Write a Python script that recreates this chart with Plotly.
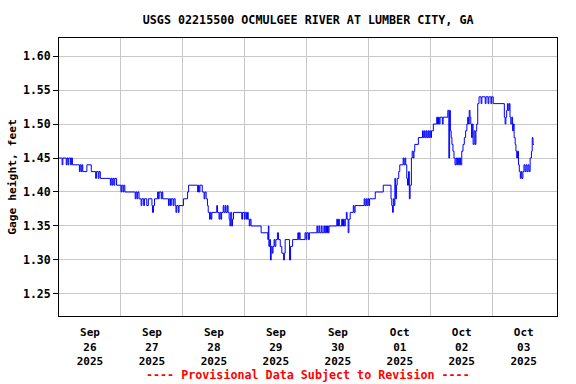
import pandas as pd
import plotly.graph_objects as go

# Hours since 2025-09-26 00:00 and gage height (ft) (step data)
hours = [
    0, 1.2, 1.5, 2.8, 3.1, 3.5, 3.8, 4.5, 4.8, 5.2, 7.9, 8.2, 8.6, 8.9, 9.2, 10.8, 12.5,
    14.2, 14.5, 15.2, 15.5, 16.0, 19.9, 20.2, 20.6, 20.9, 21.3, 21.6, 22.3, 24.0, 24.3,
    24.8, 25.1, 25.5, 29.5, 29.8, 30.2, 30.5, 31.0, 31.8, 32.1, 32.8, 33.1, 34.0, 34.6,
    36.0, 36.2, 36.6, 37.0, 38.2, 38.5, 38.8, 39.6, 39.9, 40.2, 42.4, 42.7, 43.2, 43.5,
    44.2, 44.5, 45.0, 45.3, 45.6, 46.2, 46.5, 48.2, 49.8, 50.2, 53.7, 54.0, 54.3, 54.6,
    55.5, 56.2, 56.5, 57.0, 57.5, 57.8, 58.3, 58.6, 58.9, 59.2, 61.1, 61.4, 62.0, 62.3,
    62.7, 63.0, 63.6, 63.9, 64.4, 64.7, 65.2, 65.5, 65.9, 66.2, 66.5, 66.9, 67.2, 67.6,
    70.8, 71.1, 71.8, 72.1, 72.6, 73.0, 73.3, 73.7, 74.0, 74.4, 78.3, 80.9, 81.1, 81.3,
    81.6, 81.9, 82.2, 82.6, 82.9, 83.3, 83.6, 84.0, 84.6, 85.0, 85.7, 86.3, 87.0, 87.3,
    87.6, 89.3, 89.7, 90.5, 92.5, 92.8, 93.1, 93.4, 95.3, 95.7, 96.0, 96.6, 97.0, 97.5,
    99.9, 100.2, 100.7, 101.0, 101.6, 101.9, 102.6, 102.9, 103.3, 103.6, 104.0, 104.3,
    104.6, 107.6, 107.9, 108.3, 108.6, 109.5, 109.8, 110.2, 110.5, 110.9, 111.3, 111.6,
    112.0, 112.3, 112.8, 114.0, 114.3, 114.7, 118.2, 118.5, 118.9, 119.2, 119.6, 120.0,
    120.3, 122.5, 125.6, 128.6, 128.9, 129.2, 129.5, 129.8, 130.1, 130.4, 130.7, 131.0,
    131.6, 132.0, 133.3, 133.6, 134.0, 134.3, 134.7, 135.0, 135.4, 135.7, 136.0, 136.5,
    136.8, 137.2, 137.5, 137.8, 139.2, 140.8, 141.1, 141.5, 141.8, 142.2, 142.5, 142.9,
    143.2, 143.6, 144.0, 144.3, 145.0, 146.3, 146.6, 147.0, 147.3, 147.6, 148.5, 148.8,
    150.6, 151.0, 151.3, 151.6, 151.9, 152.2, 152.6, 153.0, 153.4, 153.8, 154.1, 154.4,
    154.8, 155.1, 155.5, 156.0, 156.5, 157.0, 157.5, 158.0, 158.3, 158.6, 158.9, 159.2,
    159.5, 159.8, 160.1, 160.4, 160.8, 161.2, 161.5, 161.8, 162.2, 162.7, 163.5, 163.8,
    165.1, 165.4, 166.2, 166.5, 167.3, 167.6, 168.2, 172.5, 172.8, 173.1, 173.4, 173.7,
    174.0, 174.4, 174.7, 175.0, 175.4, 175.7, 176.0, 176.3, 176.7, 177.0, 177.3, 177.6,
    178.0, 178.3, 178.7, 179.0, 179.3, 179.7, 180.1, 180.5, 180.9, 181.3, 181.7, 182.1,
    182.5, 183.0, 183.3, 183.6, 184.0,
]
gage_ft = [
    1.45, 1.44, 1.45, 1.44, 1.45, 1.44, 1.45, 1.44, 1.45, 1.44, 1.43, 1.44, 1.43, 1.44, 1.43, 1.44, 1.43,
    1.42, 1.43, 1.42, 1.43, 1.42, 1.41, 1.42, 1.41, 1.42, 1.41, 1.42, 1.41, 1.40, 1.41,
    1.40, 1.41, 1.40, 1.39, 1.40, 1.39, 1.40, 1.39, 1.38, 1.39, 1.38, 1.39, 1.38, 1.39,
    1.38, 1.37, 1.38, 1.39, 1.40, 1.39, 1.40, 1.39, 1.40, 1.39, 1.38, 1.39, 1.38, 1.39,
    1.38, 1.39, 1.38, 1.37, 1.38, 1.37, 1.38, 1.39, 1.40, 1.41, 1.40, 1.41, 1.40, 1.41,
    1.40, 1.39, 1.40, 1.39, 1.38, 1.37, 1.36, 1.37, 1.36, 1.37, 1.38, 1.37, 1.36, 1.37,
    1.36, 1.37, 1.38, 1.37, 1.38, 1.37, 1.38, 1.37, 1.36, 1.35, 1.37, 1.35, 1.36, 1.37,
    1.36, 1.37, 1.36, 1.37, 1.36, 1.37, 1.36, 1.35, 1.36, 1.35, 1.34, 1.33, 1.35, 1.32,
    1.33, 1.30, 1.32, 1.31, 1.32, 1.33, 1.32, 1.33, 1.34, 1.33, 1.32, 1.31, 1.30, 1.31,
    1.33, 1.30, 1.32, 1.33, 1.34, 1.33, 1.34, 1.33, 1.34, 1.33, 1.34, 1.33, 1.34, 1.34,
    1.35, 1.34, 1.35, 1.34, 1.35, 1.34, 1.35, 1.34, 1.35, 1.34, 1.35, 1.34,
    1.35, 1.36, 1.35, 1.36, 1.35, 1.36, 1.35, 1.36, 1.35, 1.36, 1.37, 1.36,
    1.34, 1.36, 1.37, 1.38, 1.37, 1.38, 1.39, 1.38, 1.39, 1.38, 1.39, 1.38,
    1.39, 1.40, 1.41, 1.39, 1.38, 1.37, 1.39, 1.38, 1.42, 1.39, 1.41, 1.42,
    1.43, 1.44, 1.45, 1.44, 1.45, 1.44, 1.42, 1.41, 1.43, 1.39, 1.41, 1.45,
    1.46, 1.45, 1.46, 1.47, 1.48, 1.49, 1.48, 1.49, 1.48, 1.49, 1.48, 1.49,
    1.48, 1.49, 1.48, 1.49, 1.50, 1.51, 1.50, 1.51, 1.50, 1.51, 1.50, 1.51,
    1.52, 1.45, 1.52, 1.49, 1.48, 1.47, 1.46, 1.45, 1.44, 1.45, 1.44, 1.45,
    1.44, 1.45, 1.44, 1.46, 1.47, 1.48, 1.49, 1.50, 1.51, 1.50, 1.52, 1.51,
    1.50, 1.48, 1.50, 1.47, 1.49, 1.47, 1.49, 1.50, 1.53, 1.54, 1.53, 1.54,
    1.53, 1.54, 1.53, 1.54, 1.53, 1.54, 1.53, 1.51, 1.50, 1.51, 1.52, 1.53,
    1.52, 1.53, 1.51, 1.50, 1.51, 1.49, 1.50, 1.48, 1.47, 1.46, 1.45, 1.46,
    1.44, 1.43, 1.42, 1.43, 1.42, 1.43, 1.44, 1.43, 1.44, 1.43, 1.44, 1.43,
    1.45, 1.46, 1.48, 1.47, 1.47,
]

day_ticks = ["2025-09-26", "2025-09-27", "2025-09-28", "2025-09-29",
             "2025-09-30", "2025-10-01", "2025-10-02", "2025-10-03"]
day_labels = ["Sep<br>26<br>2025", "Sep<br>27<br>2025", "Sep<br>28<br>2025",
              "Sep<br>29<br>2025", "Sep<br>30<br>2025", "Oct<br>01<br>2025",
              "Oct<br>02<br>2025", "Oct<br>03<br>2025"]
y_ticks = [1.25, 1.30, 1.35, 1.40, 1.45, 1.50, 1.55, 1.60]

base = pd.Timestamp("2025-09-26 00:00")
times = base + pd.to_timedelta(hours, unit="h")
label_pos = [pd.Timestamp(d) + pd.Timedelta(hours=12) for d in day_ticks]
grid_pos = [pd.Timestamp(d) for d in day_ticks[1:]]

FONT = "DejaVu Sans Mono"

fig = go.Figure()
fig.add_trace(go.Scatter(
    x=times, y=gage_ft, mode="lines",
    line=dict(color="#0000ff", width=1, shape="hv"),
    hoverinfo="skip", showlegend=False,
))

fig.update_layout(
    width=576, height=384,
    margin=dict(l=59, r=19, t=38, b=68),
    paper_bgcolor="white", plot_bgcolor="white",
    font=dict(family=FONT, size=11, color="black"),
    title=dict(text="<b>USGS 02215500 OCMULGEE RIVER AT LUMBER CITY, GA</b>",
               x=0.535, xanchor="center", y=1 - 19.5 / 384, yanchor="middle",
               font=dict(family=FONT, size=11.7, color="black")),
    xaxis=dict(
        type="date", automargin=False,
        range=[base, base + pd.Timedelta(hours=192.9)],
        tickmode="array", tickvals=label_pos,
        ticktext=["<b>" + t.replace("<br>", "</b><br><b>") + "</b>" for t in day_labels],
        ticks="outside", ticklen=6, tickcolor="rgba(0,0,0,0)",
        showgrid=False, zeroline=False,
        showline=True, linecolor="black", linewidth=1, mirror=True,
        minor=dict(tickmode="array", tickvals=grid_pos, showgrid=True,
                   gridcolor="#c8c8c8", gridwidth=1, ticks=""),
        tickfont=dict(family=FONT, size=11, color="black"),
        fixedrange=True,
    ),
    yaxis=dict(
        automargin=False,
        range=[1.2176, 1.6265],
        tickmode="array", tickvals=y_ticks,
        ticktext=["<b>%.2f</b>" % v for v in y_ticks],
        ticks="outside", ticklen=5, tickcolor="black",
        showgrid=True, gridcolor="#c8c8c8", gridwidth=1, zeroline=False,
        showline=True, linecolor="black", linewidth=1, mirror=True,
        title=dict(text="<b>Gage height, feet</b>", standoff=4,
                   font=dict(family=FONT, size=11.3, color="black")),
        tickfont=dict(family=FONT, size=11.5, color="black"),
        fixedrange=True,
    ),
    annotations=[dict(
        text="<b>---- Provisional Data Subject to Revision ----</b>",
        xref="paper", yref="paper", x=0.5, y=-59 / 278, xanchor="center", yanchor="middle",
        showarrow=False, font=dict(family=FONT, size=11.7, color="red"),
    )],
)

fig.write_html(
    "out.html",
    config={"displayModeBar": False, "staticPlot": True},
    post_script="document.body.style.margin='0';document.body.style.overflow='hidden';",
)
